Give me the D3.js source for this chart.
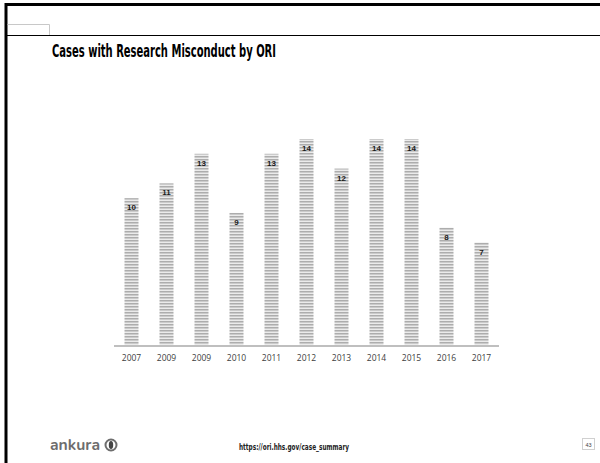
<!DOCTYPE html>
<html>
<head>
<meta charset="utf-8">
<script src="https://cdn.jsdelivr.net/npm/d3@7"></script>
<style>
  html, body { margin: 0; padding: 0; background: #fff; }
  svg { display: block; }
</style>
</head>
<body>
<svg id="chart" width="600" height="463"></svg>
<script>
const years = ["2007", "2009", "2009", "2010", "2011", "2012", "2013", "2014", "2015", "2016", "2017"];
const cases = [10, 11, 13, 9, 13, 14, 12, 14, 14, 8, 7];
const titleText = "Cases with Research Misconduct by ORI";
const sourceText = "https://ori.hhs.gov/case_summary";
const pageNumber = "43";

const svg = d3.select("#chart");

// frame
svg.append("rect").attr("x", 0).attr("y", 0).attr("width", 600).attr("height", 463).attr("fill", "#fff");
svg.append("line").attr("x1", 5).attr("x2", 600).attr("y1", 4.5).attr("y2", 4.5).attr("stroke", "#000").attr("stroke-width", 3);
svg.append("line").attr("x1", 6).attr("x2", 6).attr("y1", 3).attr("y2", 463).attr("stroke", "#000").attr("stroke-width", 3);
svg.append("line").attr("x1", 7).attr("x2", 600).attr("y1", 35.5).attr("y2", 35.5).attr("stroke", "#000").attr("stroke-width", 1);
svg.append("path").attr("d", "M7.5,24.5 H49.5 V35").attr("fill", "none").attr("stroke", "#c8c8c8").attr("stroke-width", 1);

// title
svg.append("text")
  .attr("x", 52).attr("y", 57)
  .attr("font-family", "'Liberation Sans Narrow', 'DejaVu Sans Condensed', 'Liberation Sans', sans-serif")
  .attr("font-weight", "bold")
  .attr("font-size", 17)
  .attr("textLength", 224)
  .attr("lengthAdjust", "spacingAndGlyphs")
  .attr("fill", "#000")
  .text(titleText);

// pattern
const defs = svg.append("defs");
const pat = defs.append("pattern")
  .attr("id", "stripes").attr("patternUnits", "userSpaceOnUse")
  .attr("x", 0).attr("y", 0).attr("width", 4).attr("height", 3);
pat.append("rect").attr("x", 0).attr("y", 0).attr("width", 4).attr("height", 1).attr("fill", "#adadad");
pat.append("rect").attr("x", 0).attr("y", 1).attr("width", 4).attr("height", 1).attr("fill", "#cbcbcb");
pat.append("rect").attr("x", 0).attr("y", 2).attr("width", 4).attr("height", 1).attr("fill", "#ebebeb");

const x = d3.scaleBand().domain(d3.range(years.length)).range([114, 499]).paddingInner(0.6).paddingOuter(0.3);
const y = d3.scaleLinear().domain([0, 14]).range([346, 139]);

const g = svg.append("g");
g.selectAll("rect.bar").data(cases).join("rect")
  .attr("class", "bar")
  .attr("x", (d, i) => x(i))
  .attr("y", d => y(d))
  .attr("width", x.bandwidth())
  .attr("height", d => y(0) - y(d))
  .attr("fill", "url(#stripes)");

g.selectAll("text.val").data(cases).join("text")
  .attr("class", "val")
  .attr("x", (d, i) => x(i) + x.bandwidth() / 2)
  .attr("y", d => y(d) + 12)
  .attr("text-anchor", "middle")
  .attr("font-family", "'Liberation Sans', Arial, sans-serif")
  .attr("font-weight", "bold")
  .attr("font-size", 8)
  .attr("fill", "#1a1a1a")
  .text(d => d);

// axis
const axis = d3.axisBottom(x).tickSize(0).tickPadding(9).tickFormat(i => years[i]);
const ax = svg.append("g").attr("transform", "translate(0,346)").call(axis);
ax.select(".domain").attr("stroke", "#bfbfbf").attr("stroke-width", 2).attr("d", "M114,0H499");
ax.selectAll("text")
  .attr("font-family", "'Open Sans', 'Liberation Sans', sans-serif")
  .attr("font-size", 8.5)
  .attr("fill", "#404040");

// footer
const logo = svg.append("g").attr("transform", "translate(50,450)");
logo.append("text")
  .attr("x", 0).attr("y", 0)
  .attr("font-family", "'Nunito', 'Lato', 'Open Sans', sans-serif")
  .attr("font-weight", "bold")
  .attr("font-size", 15)
  .attr("fill", "#6d6d6d")
  .attr("textLength", 50)
  .attr("lengthAdjust", "spacingAndGlyphs")
  .text("ankura");
logo.append("circle").attr("cx", 61).attr("cy", -5).attr("r", 5.5).attr("fill", "none").attr("stroke", "#6d6d6d").attr("stroke-width", 2);
logo.append("ellipse").attr("cx", 61).attr("cy", -5).attr("rx", 2.2).attr("ry", 4).attr("fill", "#444");

svg.append("text")
  .attr("x", 239).attr("y", 450)
  .attr("font-family", "'Liberation Sans Narrow', 'DejaVu Sans Condensed', sans-serif")
  .attr("font-weight", "bold")
  .attr("font-size", 8)
  .attr("textLength", 110)
  .attr("lengthAdjust", "spacingAndGlyphs")
  .attr("fill", "#222")
  .text(sourceText);

svg.append("rect").attr("x", 582.5).attr("y", 438.5).attr("width", 12).attr("height", 11).attr("fill", "#fff").attr("stroke", "#d0d0d0").attr("stroke-width", 1);
svg.append("text")
  .attr("x", 588.5).attr("y", 446.5)
  .attr("text-anchor", "middle")
  .attr("font-family", "'Liberation Sans', sans-serif")
  .attr("font-size", 5.5)
  .attr("fill", "#444")
  .text(pageNumber);
</script>
</body>
</html>
